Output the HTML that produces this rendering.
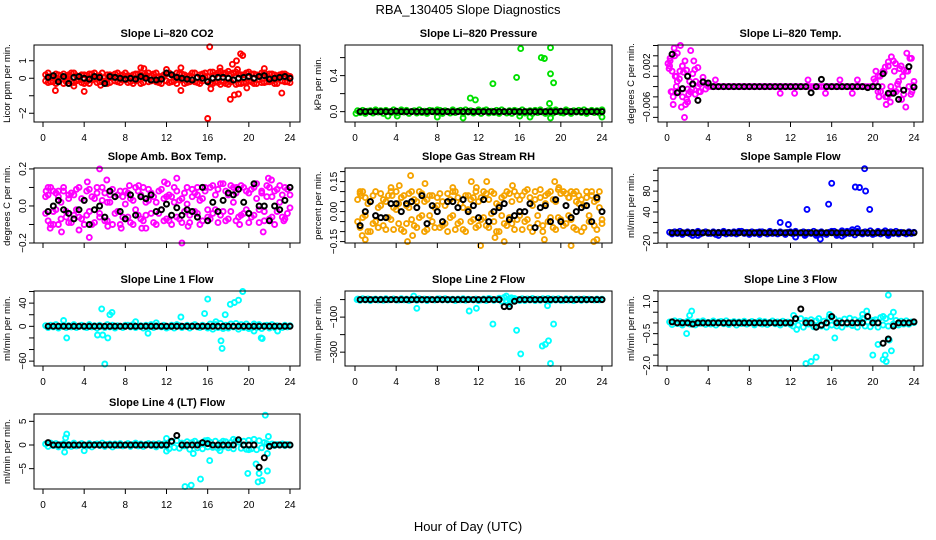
<!DOCTYPE html>
<html><head><meta charset="utf-8"><title>RBA_130405 Slope Diagnostics</title>
<style>
html,body{margin:0;padding:0;background:#fff;}
svg{display:block;font-family:"Liberation Sans",sans-serif;}
</style></head>
<body>
<svg id="fig" width="936" height="540" viewBox="0 0 936 540" xmlns="http://www.w3.org/2000/svg">
<rect x="0" y="0" width="936" height="540" fill="#fff"/>
<text x="468" y="14" font-size="13" text-anchor="middle">RBA_130405  Slope Diagnostics</text>
<text x="468" y="531" font-size="13" text-anchor="middle">Hour of Day (UTC)</text>
<g id="panels"></g>
</svg>
<script>
// ---------- shared hour grids ----------
const hoursQ = [0.25,0.5,0.75,1,1.25,1.5,1.75,2,2.25,2.5,2.75,3,3.25,3.5,3.75,4,
4.25,4.5,4.75,5,5.25,5.5,5.75,6,6.25,6.5,6.75,7,7.25,7.5,7.75,8,
8.25,8.5,8.75,9,9.25,9.5,9.75,10,10.25,10.5,10.75,11,11.25,11.5,11.75,12,
12.25,12.5,12.75,13,13.25,13.5,13.75,14,14.25,14.5,14.75,15,15.25,15.5,15.75,16,
16.25,16.5,16.75,17,17.25,17.5,17.75,18,18.25,18.5,18.75,19,19.25,19.5,19.75,20,
20.25,20.5,20.75,21,21.25,21.5,21.75,22,22.25,22.5,22.75,23,23.25,23.5,23.75,24];
const hoursH = [0.5,1,1.5,2,2.5,3,3.5,4,4.5,5,5.5,6,6.5,7,7.5,8,8.5,9,9.5,10,10.5,11,11.5,12,
12.5,13,13.5,14,14.5,15,15.5,16,16.5,17,17.5,18,18.5,19,19.5,20,20.5,21,21.5,22,22.5,23,23.5,24];
const xTicks = [0,4,8,12,16,20,24];

// ---------- Panel 1: CO2 ----------
const co2Band = [0.2,-0.25,0.1,-0.2,0.25,-0.1,0.15,-0.3,0.05,0.2,-0.2,0.3,-0.15,0.1,-0.25,0.2,
0.15,-0.3,0.25,-0.05,0.1,-0.2,0.3,-0.15,0.2,-0.25,0.05,0.25,-0.2,0.15,-0.1,0.3,
-0.25,0.1,0.2,-0.15,0.25,-0.3,0.05,0.2,-0.2,0.15,-0.1,0.3,-0.25,0.1,0.2,-0.15,
0.3,-0.2,0.1,-0.3,0.25,-0.1,0.2,-0.25,0.15,0.3,-0.2,0.05,-0.3,0.25,0.1,-0.15,
0.35,-0.3,0.2,-0.25,0.4,-0.2,0.3,-0.35,0.25,-0.1,0.35,-0.3,0.2,-0.25,0.3,-0.15,
0.25,-0.3,0.2,-0.1,0.3,-0.25,0.15,-0.2,0.25,-0.3,0.1,0.2,-0.15,0.25,-0.2,0.1];
const co2Band2 = [-0.15,0.3,-0.2,0.1,-0.3,0.2,-0.05,0.25,-0.2,0.1,0.3,-0.25,0.15,-0.1,0.2,-0.3,
-0.2,0.25,-0.1,0.3,-0.25,0.15,-0.2,0.05,-0.3,0.2,0.1,-0.15,0.3,-0.25,0.2,-0.1,
0.15,-0.2,-0.3,0.25,-0.1,0.2,-0.25,0.1,0.3,-0.15,0.25,-0.2,0.1,-0.3,0.15,0.25,
-0.25,0.2,-0.15,0.3,-0.1,0.25,-0.3,0.1,-0.2,-0.1,0.3,-0.25,0.2,-0.15,0.3,0.1,
-0.3,0.35,-0.2,0.3,-0.35,0.25,-0.3,0.4,-0.2,0.3,-0.35,0.25,-0.3,0.2,-0.25,0.35,
-0.2,0.25,-0.3,0.15,-0.25,0.3,-0.2,0.25,-0.15,0.2,-0.3,0.1,0.25,-0.2,0.15,-0.25];
const co2OutX = [1.2,4,9.5,9.8,13.4,13.4,12,16.2,16,16.3,17.2,18.2,18.6,18.4,19,18.8,19.2,19.4,18.9,21.5,23.2,19.8,5.6,3];
const co2OutY = [-0.7,-0.75,0.6,0.55,0.6,-0.7,0.5,1.8,-2.3,-0.6,0.6,-1.2,-0.95,0.8,-0.9,1.0,1.4,1.3,0.5,0.55,-0.85,-0.55,-0.4,-0.45];
const co2Black = [0.05,0.15,-0.2,0.1,-0.3,0.05,0.1,0.0,-0.05,0.1,0.05,-0.3,0.1,0.05,0.0,-0.05,0.0,-0.05,0.1,0.0,
-0.1,-0.1,-0.05,0.3,0.2,0.05,0.0,-0.05,-0.1,0.05,0.0,-0.2,0.0,0.05,0.05,0.0,-0.1,0.0,0.05,0.1,
0.0,0.1,0.15,-0.05,0.0,0.05,0.1,0.0];

// ---------- Panel 2: Pressure ----------
const pressBand = [0.01,-0.01,0.015,-0.02,0.005,0.01,-0.015,0.02,-0.005,0.01,-0.02,0.015,0.0,-0.01,0.02,-0.015,
-0.01,0.02,-0.005,0.015,-0.02,0.0,0.01,-0.015,0.02,-0.01,0.005,-0.02,0.015,0.01,-0.005,0.02,
0.015,-0.02,0.01,0.0,-0.015,0.02,-0.01,0.005,0.015,-0.02,0.02,-0.005,0.01,-0.015,0.0,0.02,
-0.02,0.01,0.02,-0.015,0.005,-0.01,0.015,-0.02,0.02,0.0,-0.015,0.01,-0.02,0.015,0.005,-0.01,
0.02,-0.015,0.0,0.01,-0.02,0.015,-0.01,0.02,-0.005,-0.02,0.01,0.015,-0.015,0.02,0.0,-0.01,
-0.015,0.02,0.005,-0.02,0.01,-0.005,0.015,-0.01,0.02,-0.02,0.0,0.015,-0.01,0.01,-0.015,0.02];
const pressOutX = [11.2,11.7,13.4,15.7,16.1,18.1,18.4,19,19.3,19,18.9,24,3.2,4.1,8,10.5,16,17,19,0.1];
const pressOutY = [0.15,0.13,0.31,0.38,0.7,0.6,0.59,0.42,0.32,0.71,0.09,-0.06,-0.05,-0.05,-0.06,-0.07,-0.05,-0.06,-0.07,-0.02];
const pressBlack = [0,0,0,0,0,0,0,0.005,0,0,0,0,0,0,0,0,0,0,0,0,0,0,0,0,0,0,0,0,0,0,0,0,0,0,0,0,0,0,0,0.005,0,0,0,0,0,0,0,0];

// ---------- Panel 3: Li-820 Temp ----------
const tempBand = [0.002,-0.003,0.004,-0.001,0.001,-0.004,0.003,-0.0025,-0.003,0.0005,-0.0035,-0.002,-0.003,-0.001,-0.0025,-0.002,
-0.002,-0.002,-0.002,-0.002,-0.002,-0.002,-0.002,-0.002,-0.002,-0.002,-0.002,-0.002,-0.002,-0.002,-0.002,-0.002,
-0.002,-0.002,-0.002,-0.002,-0.002,-0.002,-0.002,-0.002,-0.002,-0.002,-0.002,-0.002,-0.002,-0.002,-0.002,-0.002,
-0.002,-0.002,-0.002,-0.002,-0.002,-0.002,-0.002,-0.002,-0.002,-0.002,-0.002,-0.002,-0.002,-0.002,-0.002,-0.002,
-0.002,-0.002,-0.002,-0.002,-0.002,-0.002,-0.002,-0.002,-0.002,-0.002,-0.002,-0.002,-0.002,-0.002,-0.002,-0.002,
-0.001,0.0,-0.003,0.001,-0.004,0.002,-0.002,0.003,-0.003,-0.001,0.002,-0.0035,0.001,-0.002,0.0035,-0.001];
const tempOutX = [0.1,0.2,0.3,0.4,0.5,0.6,0.7,0.8,0.9,1.0,1.2,1.3,1.4,1.5,1.6,1.7,1.8,1.9,2.0,2.1,2.3,2.4,2.6,2.8,3.0,3.2,3.5,
0.3,0.6,0.9,1.1,1.5,1.9,2.2,2.7,3.1,3.8,4.7,11,12.4,13.7,15.4,16.8,18,18.5,
20.1,20.3,20.5,20.7,20.9,21.1,21.3,21.4,21.5,21.6,21.8,22,22.2,22.4,22.6,22.8,23,23.2,23.4,23.6,23.8,23.9,
20.6,21.2,21.7,22.1,22.5,22.9,23.3,23.7];
const tempOutY = [0.0025,0.0015,0.0035,-0.003,0.001,-0.004,0.0055,0.0,-0.002,0.0045,-0.0005,0.006,-0.006,-0.0025,0.0008,-0.008,-0.0055,0.0012,-0.005,-0.0035,0.005,-0.0025,0.003,-0.001,0.0017,-0.0015,-0.0002,
0.003,-0.0055,0.0,-0.003,0.002,-0.0045,-0.001,0.0013,-0.003,-0.0015,-0.0007,-0.0033,-0.0033,-0.0007,-0.0033,-0.0007,-0.0033,-0.0007,
-0.0005,0.001,-0.003,0.0,-0.002,0.0008,-0.0055,-0.004,0.0028,-0.0035,0.0038,-0.003,0.0025,-0.0015,0.0015,-0.0045,0.0012,-0.006,0.001,0.0035,-0.003,-0.0018,
-0.004,0.0018,-0.005,0.001,-0.0025,0.0,0.0045,-0.0035];
const tempBlack = [0.0043,-0.0032,-0.0024,0.0,-0.0015,-0.0047,-0.0011,-0.0013,-0.002,-0.002,-0.002,-0.002,-0.002,-0.002,-0.002,-0.002,
-0.002,-0.002,-0.002,-0.002,-0.002,-0.002,-0.002,-0.002,-0.002,-0.002,-0.002,-0.0032,-0.002,-0.0006,-0.002,-0.002,
-0.002,-0.002,-0.002,-0.002,-0.002,-0.002,-0.0022,-0.002,-0.002,0.0005,-0.0033,-0.0033,-0.0045,-0.0027,0.0019,-0.0021];

// ---------- Panel 4: Amb. Box Temp ----------
const ambBand = [0.05,-0.08,0.1,-0.03,0.07,-0.1,0.02,0.08,-0.06,0.04,-0.09,0.06,-0.02,0.1,-0.07,0.03,
-0.05,0.09,-0.1,0.04,0.07,-0.04,0.1,-0.08,0.02,0.06,-0.1,0.05,-0.03,0.08,-0.06,0.01,
0.07,-0.09,0.03,0.1,-0.05,0.06,-0.08,0.02,0.09,-0.04,0.05,-0.1,0.08,-0.02,0.04,-0.07,
-0.08,0.05,0.1,-0.06,0.03,-0.09,0.07,0.01,-0.05,0.09,-0.03,0.06,-0.1,0.04,0.08,-0.02,
0.1,-0.04,0.06,-0.09,0.12,-0.03,0.08,-0.07,0.11,0.02,-0.08,0.09,-0.05,0.1,-0.02,0.07,
-0.06,0.1,0.04,-0.09,0.08,-0.03,0.11,-0.07,0.05,-0.1,0.09,0.02,-0.06,0.1,-0.04,0.06];
const ambBand2 = [-0.04,0.06,-0.1,0.08,-0.02,0.05,-0.07,0.1,-0.03,-0.09,0.07,-0.05,0.09,-0.06,0.04,-0.1,
0.08,-0.03,0.05,-0.09,0.1,-0.06,0.03,0.07,-0.08,0.02,0.09,-0.04,0.06,-0.1,0.05,0.08,
-0.06,0.04,-0.1,-0.02,0.08,-0.07,0.1,-0.05,0.03,0.07,-0.09,0.02,-0.04,0.09,-0.08,0.05,
0.06,-0.1,0.02,0.08,-0.07,0.04,-0.03,0.1,-0.09,0.05,0.07,-0.04,0.03,-0.08,0.1,-0.06,
-0.07,0.11,-0.02,0.09,-0.05,0.12,-0.08,0.06,-0.03,0.1,0.07,-0.06,0.11,-0.04,0.08,-0.09,
0.09,-0.05,0.12,-0.02,0.07,-0.08,0.05,0.1,-0.06,0.08,-0.03,0.11,0.06,-0.07,0.09,-0.01];
const ambOutX = [0.5,0.7,1,1.5,1.8,2.5,3.5,4.3,4.5,5.5,6.2,6.3,7.6,8.4,9.3,9.6,10,11.8,12.1,13,13.5,14.1,15,18.8,19.1,21.4,21.9,22.2,23.4,0.3];
const ambOutY = [0.1,-0.12,-0.1,0.08,-0.14,0.06,-0.13,0.13,-0.17,0.2,0.14,-0.11,-0.12,0.11,0.11,-0.12,-0.12,0.13,0.12,0.15,-0.2,-0.11,0.1,0.1,-0.1,-0.14,0.15,0.14,-0.08,0.08];
const ambBlack = [-0.03,0.0,0.03,-0.02,-0.04,-0.07,-0.02,0.03,-0.1,-0.02,0.0,-0.06,0.08,0.05,-0.03,-0.07,0.06,-0.05,0.05,0.04,
0.06,-0.03,-0.02,0.01,-0.05,-0.01,-0.05,-0.02,-0.03,-0.06,0.1,-0.08,0.02,-0.03,0.03,0.07,0.06,0.09,0.02,-0.04,
0.12,0.0,0.0,-0.08,0.0,-0.02,0.03,0.1];

// ---------- Panel 5: Gas Stream RH ----------
const rhBand = [0.06,-0.08,0.1,-0.02,0.04,-0.1,0.08,-0.05,0.02,0.09,-0.07,0.05,-0.03,0.1,-0.09,0.01,
-0.06,0.07,-0.1,0.03,0.09,-0.04,0.06,-0.08,0.1,-0.02,0.05,-0.09,0.08,-0.05,0.02,0.07,
0.09,-0.07,0.03,-0.1,0.06,-0.02,0.1,-0.06,0.04,-0.09,0.08,0.01,-0.05,0.07,-0.08,0.05,
-0.04,0.1,-0.07,0.06,-0.01,0.09,-0.1,0.03,0.07,-0.06,0.1,-0.03,0.05,-0.09,0.08,-0.02,
0.08,-0.05,0.11,-0.08,0.03,0.1,-0.06,0.07,-0.1,0.04,0.09,-0.03,0.06,-0.09,0.11,-0.04,
-0.07,0.09,-0.02,0.1,-0.08,0.05,0.08,-0.1,0.03,0.07,-0.05,0.1,-0.07,0.06,0.02,-0.06];
const rhBand2 = [-0.05,0.09,-0.03,0.07,-0.1,0.05,-0.06,0.1,-0.08,0.03,0.06,-0.09,0.08,-0.04,0.02,0.1,
0.04,-0.09,0.08,-0.06,0.02,0.1,-0.07,0.05,-0.03,0.09,-0.1,0.06,-0.02,0.08,-0.08,0.03,
-0.08,0.05,-0.06,0.09,-0.03,0.1,-0.09,0.07,-0.05,0.02,-0.1,0.08,0.06,-0.04,0.1,-0.07,
0.07,-0.03,0.09,-0.08,0.1,-0.05,0.04,-0.1,-0.02,0.08,-0.07,0.09,-0.06,0.1,-0.04,0.06,
-0.09,0.1,-0.04,0.07,-0.1,0.06,-0.02,0.11,-0.07,0.08,-0.05,0.1,-0.08,0.05,-0.03,0.09,
0.1,-0.06,0.07,-0.04,0.09,-0.09,0.04,0.06,-0.08,0.1,-0.02,0.08,0.05,-0.09,0.1,-0.04];
const rhOutX = [0.5,0.6,0.7,1,3.5,3.6,4.3,4.5,5.4,5.1,5.6,6.8,9.5,11.3,11.8,12.2,12.8,13.6,14.5,15.3,18.4,19.4,19.8,20.8,21,21.5,23.2,23.5];
const rhOutY = [0.1,0.08,-0.12,-0.14,0.12,0.08,0.13,0.07,0.18,-0.15,-0.12,0.14,0.12,0.15,0.12,-0.17,0.15,-0.13,-0.15,0.13,-0.14,0.15,0.12,0.07,-0.17,0.1,-0.15,-0.14];
const rhBlack = [-0.07,0.0,0.05,-0.02,-0.03,-0.03,0.04,0.04,0.0,0.04,0.05,0.02,0.08,-0.06,0.03,0.0,
-0.05,0.05,0.05,0.02,0.06,0.0,0.03,-0.03,0.06,-0.05,0.0,0.02,0.04,-0.04,-0.02,0.0,
0.0,0.04,-0.08,0.02,0.03,-0.05,0.06,-0.05,0.03,-0.03,0.0,0.02,0.03,-0.05,0.07,0.0];

// ---------- Panel 6: Sample Flow ----------
const flowBand = [1,-2,2,-1,3,-3,0,2,-2,1,-1,3,-2,0,2,-1,
-1,2,-3,1,0,3,-2,1,-1,2,-2,0,3,-1,1,-3,
2,-1,1,-3,2,0,-2,3,-1,1,-2,2,0,-3,1,2,
-2,3,-1,0,2,-3,1,-1,3,-2,0,2,-1,-3,1,3,
3,-2,0,4,-3,1,-1,2,-4,3,0,-2,2,-1,4,-3,
-1,3,-2,1,0,-3,2,-1,3,-2,1,0,-2,2,-1,1];
const flowOutX = [11,11.8,13.6,15.7,16,18.3,18.7,19.2,19.3,19.7,14.9,13.4,2.5,3,5,12.5,14.5,16.5,17,17.5,18,18.5,21.2,21.5,7,9];
const flowOutY = [20,16,45,55,95,88,87,123,80,45,-12,-5,-5,-5,-5,-8,-5,-5,-6,3,6,8,4,-5,3,2];
const flowBlack = [0,0,0,0,0,0,0,0,0,0,0,0,0,0,0,0,0,0,0,0,0,0,0,0,0,0,0,0,0,0,0,0,0,0,0,0,0,0,0,0,0,0,0,0,0,0,0,0];

// ---------- Panel 7: Line 1 Flow ----------
const l1Band = [1,-2,2,-1,3,-3,0,2,-2,1,-1,3,-2,0,2,-1,
-2,3,-1,1,-3,2,0,-2,3,-1,2,-3,1,0,-2,2,
2,-1,3,-2,0,1,-3,2,-1,3,-2,1,0,-1,2,-3,
-1,2,-3,3,1,-2,0,2,-3,1,3,-1,-2,2,0,-3,
4,-5,3,-2,5,-4,2,-3,4,-1,5,-5,3,-2,4,-4,
-3,4,-2,3,-4,1,2,-3,3,-2,1,0,-2,2,-1,1];
const l1OutX = [2,2.3,5.7,6,5.8,6.3,6.5,6.7,13.4,15.7,16,17.3,17.4,17.7,18.2,18.6,19,19.4,21.2,21.3,5.3,10.2,9,11,16.8,20.5,22.8];
const l1OutY = [10,-20,30,-65,-15,-20,20,24,16,22,47,-25,-38,20,38,41,45,60,-20,-21,-15,-12,8,6,8,-8,-8];
const l1Black = [0,0,0,0,0,0,0,0,0,0,0,0,0,0,0,0,0,0,0,0,0,0,0,0,0,0,0,0,0,0,0,0,0,0,0,0,0,0,0,0,0,0,0,0,0,0,0,0];

// ---------- Panel 8: Line 2 Flow ----------
const l2Band = [3,-4,5,-2,4,-5,1,3,-3,2,-4,5,-2,0,4,-3,
-3,5,-2,3,-5,2,0,-4,5,-2,3,-5,2,0,-3,4,
4,-2,5,-3,0,2,-5,3,-2,5,-4,2,0,-2,3,-5,
-2,4,-6,6,2,-4,0,8,-10,12,-6,4,-8,6,0,-5,
5,-6,4,-3,6,-5,3,-4,5,-2,6,-6,4,-3,5,-4,
-4,5,-3,4,-5,2,3,-4,4,-3,2,0,-3,3,-2,2];
const l2OutX = [5.7,6,11.1,11.8,13.4,15.7,16.1,18.2,18.5,18.8,19,19.3,18.7,14.7,15,15.2,0.2];
const l2OutY = [20,-50,-65,-50,-140,-175,-310,-265,-255,-235,-365,-140,-35,20,-25,10,0];
const l2Black = [0,0,0,0,0,0,0,0,0,0,0,0,0,0,0,0,0,0,0,0,0,0,0,0,0,0,0,0,-40,-40,-10,0,0,0,0,0,0,0,0,0,0,0,0,0,0,0,0,0];

// ---------- Panel 9: Line 3 Flow ----------
const l3Band = [0.05,-0.08,0.1,-0.03,0.07,-0.1,0.02,0.08,-0.06,0.04,-0.09,0.06,-0.02,0.1,-0.07,0.03,
-0.05,0.09,-0.1,0.04,0.07,-0.04,0.1,-0.08,0.02,0.06,-0.1,0.05,-0.03,0.08,-0.06,0.01,
0.07,-0.09,0.03,0.1,-0.05,0.06,-0.08,0.02,0.09,-0.04,0.05,-0.1,0.08,-0.02,0.04,-0.07,
-0.15,0.18,-0.1,0.2,-0.2,0.12,-0.05,0.15,-0.18,0.1,0.2,-0.15,0.08,-0.2,0.25,-0.1,
0.2,-0.15,0.1,-0.2,0.18,-0.05,0.22,-0.12,0.15,-0.2,0.1,0.2,-0.15,0.05,-0.18,0.12,
0.15,-0.2,0.25,-0.1,0.2,-0.15,0.3,-0.05,0.12,-0.1,0.08,-0.05,0.1,-0.06,0.05,0.02];
const l3OutX = [1.9,2.2,2.4,12.3,13.5,14,14.5,16.3,20,20.5,21,21,21.2,21.3,21.5,21.8,21.6,22,15.8,19.4,19,12.6];
const l3OutY = [-0.5,0.35,0.55,0.35,-1.9,-1.8,-1.6,-0.7,-1.5,-1,0.3,-1.7,-1.5,-1.8,1.3,-1.3,-0.8,0.5,0.4,0.55,0.4,-0.3];
const l3Black = [0.05,0,0,0,-0.05,0,0,0,0,0,0,0,0,0,0,0,0,0,0,0,0,0,0,0,0.2,0.65,0,0,-0.2,-0.1,0,0.3,0,0,0,0,0,0,0.3,0,0,-0.95,-0.75,-0.15,0,0,0,0.05];

// ---------- Panel 10: Line 4 (LT) Flow ----------
const l4Band = [0.2,-0.3,0.4,-0.1,0.3,-0.4,0.1,0.3,-0.2,0.1,-0.3,0.4,-0.2,0.0,0.3,-0.1,
-0.2,0.3,-0.4,0.1,0.2,-0.1,0.4,-0.3,0.1,0.2,-0.4,0.2,-0.1,0.3,-0.2,0.0,
0.3,-0.3,0.1,0.4,-0.2,0.2,-0.3,0.1,0.3,-0.1,0.2,-0.4,0.3,-0.1,0.2,-0.3,
-0.8,0.6,-0.5,0.9,-0.7,0.4,-0.2,0.7,-0.9,0.5,0.8,-0.6,0.3,-0.8,0.9,-0.4,
0.6,-0.5,0.8,-0.7,0.4,-0.3,0.7,-0.6,0.5,-0.8,0.9,0.6,-0.7,0.8,-0.9,1.0,
-0.8,1.2,-1.0,0.9,-0.6,0.5,0.3,-0.2,0.2,-0.1,0.1,0.0,0.2,-0.1,0.1,0.0];
const l4OutX = [2.1,2.2,2.3,4,12,12,13.8,14.4,15.3,14.6,16.2,17.2,18.5,19.9,20,20.7,21,20.9,21.3,21.6,21.8,21.8,21.9,16,17.5];
const l4OutY = [-1.5,1.5,2.3,-1.2,-1.3,1.4,-8.8,-8.5,-7.2,-1.8,-3.3,-1.2,1.2,-6,-1,-4,-6,-7.8,-7.5,6.3,-5.5,-1.8,1.8,1,0.8];
const l4Black = [0.5,0,0,0,0,0,0,0,0,0,0,0,0,0,0,0,0,0,0,0,0,0,0,0,0.8,2,0,0,0,0,0.5,0.3,0,0,0,0,0,1.1,0,0,0,-4.7,-2.7,-0.3,0,0,0,0];

// ---------- layout ----------
const cols = [{l:34,r:300,x0:43,x24:290},{l:345,r:612,x0:355,x24:602},{l:658,r:923,x0:667,x24:914}];
const rows = [{t:45,b:122},{t:168,b:243},{t:291,b:366},{t:414,b:489}];

const panels = [
 {name:'co2',title:'Slope Li\u2013820 CO2',ylab:'Licor ppm per min.',c:0,r:0,ylim:[-2.5,1.9],ticks:[-2,-1,0,1],labs:{'-2':'\u22122','0':'0','1':'1'},col:'#ff0000',bands:[co2Band,co2Band2],ox:co2OutX,oy:co2OutY,blk:co2Black,xl:true},
 {name:'pressure',title:'Slope Li\u2013820 Pressure',ylab:'kPa per min.',c:1,r:0,ylim:[-0.115,0.74],ticks:[0,0.2,0.4,0.6],labs:{'0':'0.0','0.4':'0.4'},col:'#00e000',bands:[pressBand],ox:pressOutX,oy:pressOutY,blk:pressBlack,xl:true},
 {name:'temp',title:'Slope Li\u2013820 Temp.',ylab:'degrees C per min.',c:2,r:0,ylim:[-0.0089,0.0061],ticks:[-0.008,-0.006,-0.004,-0.002,0,0.002,0.004,0.006],labs:{'0.002':'0.002','-0.006':'\u22120.006'},col:'#ff00ff',bands:[tempBand],ox:tempOutX,oy:tempOutY,blk:tempBlack,xl:true},
 {name:'amb-box-temp',title:'Slope Amb. Box Temp.',ylab:'degrees C per min.',c:0,r:1,ylim:[-0.2,0.205],ticks:[-0.2,-0.1,0,0.1,0.2],labs:{'-0.2':'\u22120.2','0':'0.0','0.2':'0.2'},col:'#ff00ff',bands:[ambBand,ambBand2],ox:ambOutX,oy:ambOutY,blk:ambBlack,xl:false},
 {name:'gas-stream-rh',title:'Slope Gas Stream RH',ylab:'percent per min.',c:1,r:1,ylim:[-0.157,0.218],ticks:[-0.15,-0.1,-0.05,0,0.05,0.1,0.15,0.2],labs:{'-0.15':'\u22120.15','0':'0.00','0.15':'0.15'},col:'#f5a300',bands:[rhBand,rhBand2],ox:rhOutX,oy:rhOutY,blk:rhBlack,xl:false},
 {name:'sample-flow',title:'Slope Sample Flow',ylab:'ml/min per min.',c:2,r:1,ylim:[-19.5,124.4],ticks:[-20,0,20,40,60,80,100,120],labs:{'-20':'\u221220','40':'40','80':'80'},col:'#0000ff',bands:[flowBand],ox:flowOutX,oy:flowOutY,blk:flowBlack,xl:false},
 {name:'line1-flow',title:'Slope Line 1 Flow',ylab:'ml/min per min.',c:0,r:2,ylim:[-68.4,60.9],ticks:[-60,-40,-20,0,20,40,60],labs:{'-60':'\u221260','0':'0','40':'40'},col:'#00ffff',bands:[l1Band],ox:l1OutX,oy:l1OutY,blk:l1Black,xl:true},
 {name:'line2-flow',title:'Slope Line 2 Flow',ylab:'ml/min per min.',c:1,r:2,ylim:[-379,49],ticks:[-300,-200,-100,0],labs:{'-300':'\u2212300','-100':'\u2212100'},col:'#00ffff',bands:[l2Band],ox:l2OutX,oy:l2OutY,blk:l2Black,xl:true},
 {name:'line3-flow',title:'Slope Line 3 Flow',ylab:'ml/min per min.',c:2,r:2,ylim:[-2.01,1.49],ticks:[-2,-1.5,-1,-0.5,0,0.5,1,1.5],labs:{'-2':'\u22122.0','-0.5':'\u22120.5','1':'1.0'},col:'#00ffff',bands:[l3Band],ox:l3OutX,oy:l3OutY,blk:l3Black,xl:true},
 {name:'line4-flow',title:'Slope Line 4 (LT) Flow',ylab:'ml/min per min.',c:0,r:3,ylim:[-9.3,6.55],ticks:[-5,0,5],labs:{'-5':'\u22125','0':'0','5':'5'},col:'#00ffff',bands:[l4Band],ox:l4OutX,oy:l4OutY,blk:l4Black,xl:true}
];

const NS='http://www.w3.org/2000/svg';
const root=document.getElementById('panels');
function mk(tag,attrs,parent){const e=document.createElementNS(NS,tag);for(const k in attrs)e.setAttribute(k,attrs[k]);parent.appendChild(e);return e;}

panels.forEach(p=>{
  const C=cols[p.c],R=rows[p.r];
  const xs=h=>C.x0+(C.x24-C.x0)*h/24;
  const ys=v=>R.b-(v-p.ylim[0])/(p.ylim[1]-p.ylim[0])*(R.b-R.t);
  const g=mk('g',{},root);
  
  
  const t=mk('text',{x:(C.l+C.r)/2,y:R.t-8,'font-size':'11','font-weight':'bold','text-anchor':'middle'},g);
  t.textContent=p.title;
  
  
  const yl=mk('text',{x:0,y:0,'font-size':'9.5','text-anchor':'middle',transform:'translate('+(C.l-24)+','+((R.t+R.b)/2)+') rotate(-90)'},g);
  yl.textContent=p.ylab;
  
  
  const pts=mk('g',{fill:'none','stroke-width':'1.9'},g);
  
  
  p.bands.forEach(b=>{b.forEach((v,i)=>{
    const c=mk('circle',{cx:xs(hoursQ[i]).toFixed(1),cy:ys(v).toFixed(1),r:'2.5',stroke:p.col},pts);
    
    
  });});
  p.ox.forEach((x,i)=>{
    const c=mk('circle',{cx:xs(x).toFixed(1),cy:ys(p.oy[i]).toFixed(1),r:'2.5',stroke:p.col},pts);
    
    
  });
  p.blk.forEach((v,i)=>{
    const c=mk('circle',{cx:xs(hoursH[i]).toFixed(1),cy:ys(v).toFixed(1),r:'2.5',stroke:'#000','stroke-width':'2'},pts);
    
    
  });
  const bx=mk('rect',{x:C.l,y:R.t,width:C.r-C.l,height:R.b-R.t,fill:'none',stroke:'#000','stroke-width':'1'},g);
  
  
  const xa=mk('g',{stroke:'#000','stroke-width':'1'},g);
  
  
  mk('line',{x1:xs(0),x2:xs(24),y1:R.b,y2:R.b},xa);
  xTicks.forEach(h=>{
    mk('line',{x1:xs(h),x2:xs(h),y1:R.b,y2:R.b+5},xa);
    if(p.xl){const tl=mk('text',{x:xs(h),y:R.b+19,'font-size':'10','text-anchor':'middle',stroke:'none'},xa);tl.textContent=String(h);
      
      }
  });
  const ya=mk('g',{stroke:'#000','stroke-width':'1'},g);
  
  
  mk('line',{x1:C.l,x2:C.l,y1:ys(p.ticks[0]),y2:ys(p.ticks[p.ticks.length-1])},ya);
  p.ticks.forEach(v=>{
    const y=ys(v);
    mk('line',{x1:C.l-5,x2:C.l,y1:y,y2:y},ya);
    const lab=p.labs[String(v)];
    if(lab){const tl=mk('text',{x:0,y:0,'font-size':'10','text-anchor':'middle',stroke:'none',transform:'translate('+(C.l-8)+','+y.toFixed(1)+') rotate(-90)'},ya);tl.textContent=lab;
      
      }
  });
});
</script>
</body></html>
